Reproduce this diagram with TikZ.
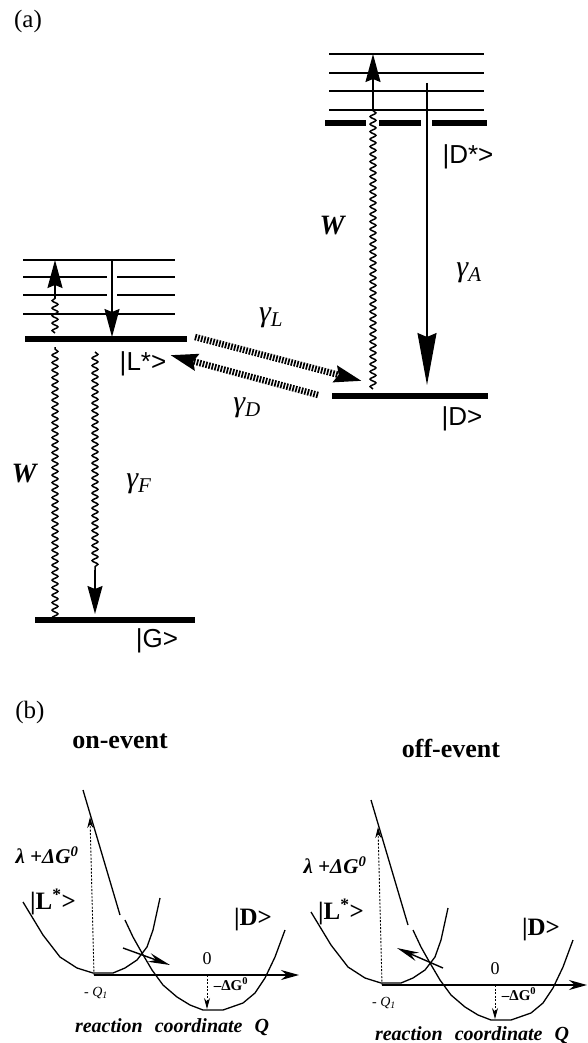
\documentclass[tikz,border=0pt]{standalone}
\usepackage{fontspec}
\setmainfont{Liberation Serif}
\newfontfamily\ketfont{Liberation Sans}
\usetikzlibrary{arrows.meta,decorations.pathmorphing}

\begin{document}
\begin{tikzpicture}[
x=1pt, y=-1pt,
sublevel/.style={line width=1.8pt},
level/.style={line width=6pt},
photon/.style={decorate, decoration={snake, segment length=7.5pt, amplitude=2.9pt}, line width=1.5pt},
arrow/.style={-{Stealth[length=28pt, width=15pt, inset=3pt]}, line width=1.5pt},
bigarrow/.style={-{Stealth[length=52pt, width=19pt, inset=4pt]}, line width=1.5pt},
hop/.style={-{Stealth[length=27pt, width=16pt, inset=3pt]}, line width=6.5pt, dash pattern=on 1.7pt off 1.4pt},
ket/.style={font=\ketfont\fontsize{26}{30}\selectfont},
rate/.style={font=\fontsize{30}{34}\selectfont\itshape},
wlab/.style={font=\fontsize{28}{32}\selectfont\bfseries\itshape},
panel/.style={font=\fontsize{25}{28}\selectfont},
title/.style={font=\fontsize{26}{30}\selectfont\bfseries},
curve/.style={line width=1.3pt, line join=round},
axis/.style={-{Stealth[length=18pt, width=10pt]}, line width=1.6pt},
guide/.style={-{Stealth[length=11pt, width=6pt]}, line width=0.9pt, dash pattern=on 2pt off 1.5pt},
push/.style={-{Stealth[length=22pt, width=9pt]}, line width=1.4pt}
]
\useasboundingbox (0,0) rectangle (588,1043);

% (a) level scheme
\node[panel] (lblA) at (28,21) {(a)};

\foreach \yy in {260,314} \draw[sublevel] (23,\yy) -- (175,\yy);
\foreach \yy in {277,295} {
  \draw[sublevel] (23,\yy) -- (107,\yy);
  \draw[sublevel] (117,\yy) -- (175,\yy);
}
\draw[level] (25,339) -- (187,339);

\foreach \yy in {54,73,91,110} \draw[sublevel] (329,\yy) -- (484,\yy);
\draw[level] (325,123) -- (366,123) (379,123) -- (421,123) (432,123) -- (487,123);

\draw[level] (332,396) -- (488,396);
\draw[level] (35,620) -- (195,620);

\coordinate (Gw) at (55,620);
\coordinate (Lw0) at (55,347);
\coordinate (Lw1) at (55,333);
\coordinate (Lw2) at (55,298);
\coordinate (Ltop) at (55,260);
\coordinate (Lr1) at (112,260);
\coordinate (Lr2) at (112,337);
\coordinate (Fw1) at (95,352);
\coordinate (Fw2) at (95,570);
\coordinate (Fw3) at (95,614);
\coordinate (Dw0) at (373,389);
\coordinate (Dw1) at (373,110);
\coordinate (Dtop) at (373,54);
\coordinate (Da1) at (427,83);
\coordinate (Da2) at (427,385);
\coordinate (hl1) at (195,337);
\coordinate (hl2) at (362,381);
\coordinate (hd1) at (318,395);
\coordinate (hd2) at (170,355);

\draw[photon] (Gw) -- (Lw0);
\draw[photon] (Lw1) -- (Lw2);
\draw[arrow] (Lw2) -- (Ltop);
\draw[arrow] (Lr1) -- (Lr2);
\draw[photon] (Fw1) -- (Fw2);
\draw[arrow] (Fw2) -- (Fw3);
\draw[photon] (Dw0) -- (Dw1);
\draw[arrow] (Dw1) -- (Dtop);
\draw[bigarrow] (Da1) -- (Da2);
\draw[hop] (hl1) -- (hl2);
\draw[hop] (hd1) -- (hd2);

\node[ket] (Lket) at (143,364) {|L*>};
\node[ket] (Dsket) at (468,157) {|D*>};
\node[ket] (Dket) at (462,419) {|D>};
\node[ket] (Gket) at (157,641) {|G>};

\node[wlab] (Wl) at (24,474) {W};
\node[wlab] (Wr) at (332,226) {W};
\node[rate] (gF) at (139,484) {γ\textsubscript{F}};
\node[rate] (gA) at (469,273) {γ\textsubscript{A}};
\node[rate] (gL) at (271,318) {γ\textsubscript{L}};
\node[rate] (gD) at (247,408) {γ\textsubscript{D}};

% (b) potential curves
\node[panel] (lblB) at (30,712) {(b)};
\node[title] (on) at (120,741) {on-event};
\node[title] (off) at (451,748) {off-event};

\foreach \p/\dx/\dy in {on/0/0, off/288/10} {
\begin{scope}[shift={(\dx,\dy)}]
  \draw[curve] (23,902) -- (43,935) -- (60,957) -- (77,968) -- (93,973) -- (113,973)
    -- (125,968) -- (137,960) -- (147,947) -- (153,930) -- (160,898);
  \draw[curve] (83,790) -- (120,915);
  \draw[curve] (125,920) -- (133,937) -- (142,953) -- (152,970) -- (163,985) -- (177,997)
    -- (190,1005) -- (203,1010) -- (223,1010) -- (243,1003) -- (255,993) -- (265,978)
    -- (275,957) -- (285,930);
  \coordinate (Lmin-\p) at (94,975);
  \coordinate (Qend-\p) at (299,975);
  \coordinate (lamtop-\p) at (90,817);
  \coordinate (zero-\p) at (207,975);
  \coordinate (Dmin-\p) at (207,1009);
  \draw[axis] (Lmin-\p) -- (Qend-\p);
  \draw[guide] (Lmin-\p) -- (lamtop-\p);
  \draw[guide] (zero-\p) -- (Dmin-\p);
  \node[font=\fontsize{21}{24}\selectfont\bfseries\itshape] (lam-\p) at (47,855) {λ +ΔG\textsuperscript{0}};
  \node[font=\fontsize{25}{30}\selectfont\bfseries] (Lk-\p) at (53,902) {|L\textsuperscript{*}>};
  \node[font=\fontsize{25}{30}\selectfont\bfseries] (Dk-\p) at (253,920) {|D>};
  \node[font=\fontsize{18}{20}\selectfont] (z-\p) at (207,959) {0};
  \node[font=\fontsize{14}{16}\selectfont\itshape] (q-\p) at (96,993) {- Q\textsubscript{1}};
  \node[font=\fontsize{15}{17}\selectfont\bfseries] (dg-\p) at (231,984) {–ΔG\textsuperscript{0}};
\end{scope}
}

\node[font=\fontsize{20}{24}\selectfont\bfseries\itshape] (rc-on) at (172,1027) {reaction\hspace{0.6em}coordinate\hspace{0.6em}Q};
\node[font=\fontsize{20}{24}\selectfont\bfseries\itshape] (rc-off) at (472,1035) {reaction\hspace{0.6em}coordinate\hspace{0.6em}Q};

\coordinate (onA) at (123,948);
\coordinate (onB) at (170,965);
\coordinate (offA) at (443,968);
\coordinate (offB) at (397,948);
\draw[push] (onA) -- (onB);
\draw[push] (offA) -- (offB);
\end{tikzpicture}
\end{document}
